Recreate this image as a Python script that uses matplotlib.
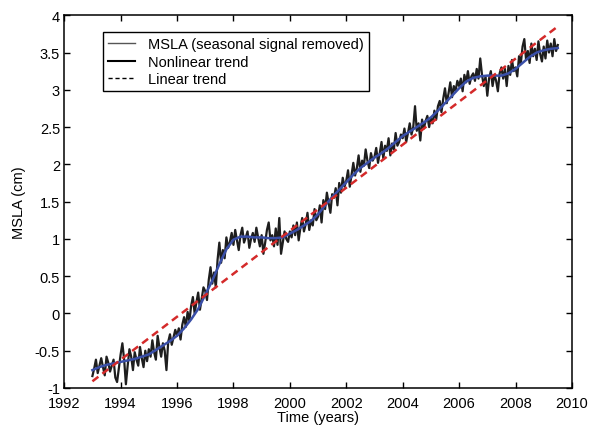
import numpy as np
import matplotlib
matplotlib.use("Agg")
import matplotlib.pyplot as plt
from matplotlib.lines import Line2D
from matplotlib.ticker import FixedLocator, FormatStrFormatter

plt.rcParams['font.family'] = ['Liberation Sans', 'DejaVu Sans']
plt.rcParams['axes.unicode_minus'] = False

#%% data

# MSLA, seasonal signal removed (cm), 16 samples per year from 1993.0
msla_start = 1993.0
msla_step = 1 / 16.
msla = [
    -0.84, -0.74, -0.62, -0.80, -0.70, -0.60, -0.72, -0.83, -0.58, -0.66, -0.78, -0.70, -0.62, -0.86, -0.92, -0.74,  # 1993
    -0.55, -0.40, -0.62, -0.95, -0.70, -0.48, -0.58, -0.76, -0.52, -0.62, -0.70, -0.45, -0.60, -0.72, -0.50, -0.64,  # 1994
    -0.48, -0.58, -0.36, -0.52, -0.62, -0.30, -0.45, -0.58, -0.40, -0.50, -0.76, -0.38, -0.28, -0.42, -0.32, -0.22,  # 1995
    -0.30, -0.20, -0.35, -0.15, -0.05, -0.18, 0.02, -0.10, 0.10, 0.22, 0.00, 0.15, 0.28, 0.05, 0.20, 0.35,  # 1996
    0.30, 0.18, 0.45, 0.62, 0.40, 0.55, 0.35, 0.72, 0.95, 0.68, 0.85, 0.74, 1.02, 0.88, 0.96, 1.08,  # 1997
    0.92, 1.12, 0.98, 0.85, 1.05, 1.15, 0.95, 1.02, 1.10, 0.88, 1.00, 1.08, 0.96, 1.15, 1.02, 0.90,  # 1998
    1.05, 0.80, 0.95, 1.12, 1.22, 0.98, 1.05, 0.90, 1.14, 0.92, 1.28, 0.80, 0.95, 1.10, 1.00, 0.96,  # 1999
    1.10, 1.02, 1.18, 1.05, 1.22, 0.98, 1.15, 1.28, 1.10, 1.20, 1.35, 1.12, 1.25, 1.18, 1.40, 1.25,  # 2000
    1.30, 1.45, 1.22, 1.52, 1.40, 1.62, 1.48, 1.35, 1.60, 1.55, 1.68, 1.45, 1.75, 1.62, 1.82, 1.70,  # 2001
    1.78, 1.92, 1.70, 1.86, 2.02, 1.85, 1.95, 2.12, 1.90, 2.05, 1.98, 2.20, 2.05, 1.95, 2.15, 2.05,  # 2002
    2.10, 2.22, 2.02, 2.15, 2.30, 2.08, 2.25, 2.18, 2.35, 2.12, 2.28, 2.20, 2.42, 2.25, 2.30, 2.40,  # 2003
    2.35, 2.48, 2.30, 2.42, 2.55, 2.40, 2.50, 2.78, 2.45, 2.55, 2.32, 2.60, 2.48, 2.58, 2.65, 2.50,  # 2004
    2.62, 2.55, 2.72, 2.60, 2.78, 2.85, 2.70, 2.88, 3.02, 2.82, 2.95, 3.10, 2.90, 3.05, 2.98, 3.12,  # 2005
    3.05, 3.15, 2.98, 3.20, 3.10, 3.25, 3.08, 3.18, 3.22, 3.12, 3.28, 3.15, 3.42, 3.20, 3.05, 3.18,  # 2006
    2.92, 3.15, 3.25, 3.05, 3.20, 3.12, 2.98, 3.22, 3.30, 3.15, 3.28, 3.05, 3.32, 3.20, 3.40, 3.25,  # 2007
    3.30, 3.18, 3.45, 3.35, 3.58, 3.68, 3.40, 3.52, 3.36, 3.62, 3.45, 3.55, 3.40, 3.65, 3.48, 3.38,  # 2008
    3.58, 3.42, 3.66, 3.50, 3.62, 3.45, 3.68, 3.52, 3.60,  # 2009
]

# nonlinear trend (cm), quarterly from 1993.0
trend_start = 1993.0
trend_step = 0.25
nonlin = [
    -0.76, -0.72, -0.69, -0.67, -0.65, -0.63, -0.61, -0.58,
    -0.55, -0.49, -0.43, -0.37, -0.30, -0.20, -0.08, 0.06,
    0.25, 0.44, 0.66, 0.86, 0.99, 1.03, 1.03, 1.02,
    1.02, 1.01, 1.01, 1.02, 1.07, 1.12, 1.18, 1.24,
    1.33, 1.45, 1.56, 1.66, 1.76, 1.86, 1.95, 2.02,
    2.09, 2.15, 2.22, 2.30, 2.38, 2.44, 2.50, 2.56,
    2.63, 2.72, 2.82, 2.92, 3.02, 3.11, 3.16, 3.18,
    3.19, 3.19, 3.19, 3.22, 3.28, 3.36, 3.44, 3.50,
    3.53, 3.55, 3.56,
]

# linear trend end points
lin_years = [1993.0, 2009.5]
lin_vals = [-0.91, 3.85]

#%%

t_msla = msla_start + msla_step * np.arange(len(msla))
t_trend = trend_start + trend_step * np.arange(len(nonlin))

fig = plt.figure(figsize=(5.89, 4.27), dpi=100)
ax = fig.add_axes([0.109, 0.089, 0.862, 0.873])

ax.plot(t_msla, msla, color='#1e1e1e', linewidth=1.6, zorder=2)
ax.plot(t_trend, nonlin, color='#3a4fa8', linewidth=1.8, zorder=3)
ax.plot(lin_years, lin_vals, color='#d42a2a', linewidth=1.8,
        linestyle=(0, (3, 2)), zorder=4)

ax.set_xlim(1992, 2010)
ax.set_ylim(-1, 4)
ax.xaxis.set_major_locator(FixedLocator(np.arange(1992, 2011, 2)))
ax.yaxis.set_major_locator(FixedLocator(np.arange(-1, 4.01, 0.5)))
ax.yaxis.set_major_formatter(FormatStrFormatter('%g'))

ax.tick_params(direction='in', length=4, width=1, top=True, right=True,
               labelsize=10.5, colors='black', pad=3)
ax.tick_params(axis='x', pad=5.5)
for s in ax.spines.values():
    s.set_linewidth(1.1)

ax.set_xlabel('Time (years)', fontsize=10.5, labelpad=0)
ax.set_ylabel('MSLA (cm)', fontsize=10.5, labelpad=6)

handles = [
    Line2D([], [], color='#555555', linewidth=1.0),
    Line2D([], [], color='black', linewidth=1.5),
    Line2D([], [], color='black', linewidth=1.0, linestyle=(0, (3, 2))),
]
labels = ['MSLA (seasonal signal removed)', 'Nonlinear trend', 'Linear trend']
leg = ax.legend(handles, labels, loc='upper left', bbox_to_anchor=(0.077, 0.954),
                borderaxespad=0, fontsize=10.5, fancybox=False, framealpha=1,
                edgecolor='black', handlelength=1.8, handletextpad=0.9,
                labelspacing=0.22, borderpad=0.35)
leg.get_frame().set_linewidth(1.0)

fig.savefig('out.png', dpi=100)
